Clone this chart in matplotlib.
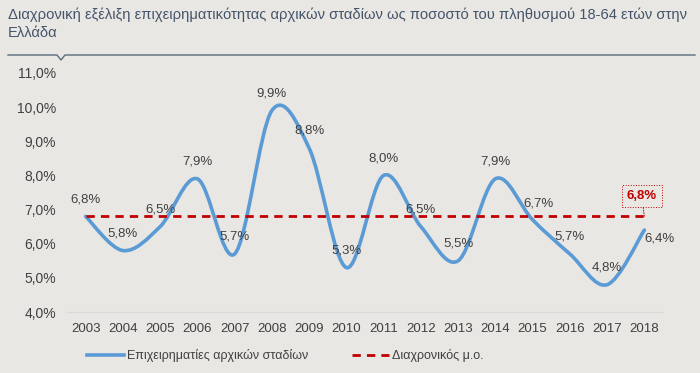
import numpy as np
import matplotlib.pyplot as plt
from matplotlib.path import Path
from matplotlib.patches import PathPatch
from matplotlib.lines import Line2D
from matplotlib.ticker import FuncFormatter

years = ["2003", "2004", "2005", "2006", "2007", "2008", "2009", "2010",
         "2011", "2012", "2013", "2014", "2015", "2016", "2017", "2018"]
tea = [6.8, 5.8, 6.5, 7.9, 5.7, 9.9, 8.8, 5.3, 8.0, 6.5, 5.5, 7.9, 6.7, 5.7, 4.8, 6.4]
mean_value = 6.8

title = ("Διαχρονική εξέλιξη επιχειρηματικότητας αρχικών σταδίων ως ποσοστό του πληθυσμού 18-64 ετών στην\n"
         "Ελλάδα")
series_name = "Επιχειρηματίες αρχικών σταδίων"
mean_name = "Διαχρονικός μ.ο."

bg = "#e9e7e3"
blue = "#5b9bd5"
red = "#c00000"
txt = "#404040"

plt.rcParams['font.family'] = ['Liberation Sans', 'DejaVu Sans']

fig = plt.figure(figsize=(7, 3.73), dpi=100, facecolor=bg)
ax = fig.add_axes([67 / 700, 1 - 312 / 373, (663 - 67) / 700, (312 - 73) / 373])
ax.set_facecolor(bg)


def smooth_path(x, y):
    # Excel-like smoothed line: Catmull-Rom segments as cubic Beziers
    pts = np.column_stack([x, y])
    verts = [pts[0]]
    codes = [Path.MOVETO]
    n = len(pts)
    for i in range(n - 1):
        p0 = pts[i - 1] if i > 0 else pts[i]
        p1 = pts[i]
        p2 = pts[i + 1]
        p3 = pts[i + 2] if i + 2 < n else pts[i + 1]
        c1 = p1 + (p2 - p0) / 6
        c2 = p2 - (p3 - p1) / 6
        verts += [c1, c2, p2]
        codes += [Path.CURVE4] * 3
    return Path(verts, codes)


x = np.arange(len(years))
ax.add_patch(PathPatch(smooth_path(x, np.array(tea)), facecolor='none',
                       edgecolor=blue, lw=2.6, capstyle='round', zorder=3))
ax.plot([x[0], x[-1]], [mean_value, mean_value], color=red, lw=2, ls=(0, (3, 2.2)), zorder=4)

for xi, v in zip(x, tea):
    lab = f"{v:.1f}%".replace(".", ",")
    if xi == len(years) - 1:
        ax.annotate(lab, (xi, v), xytext=(11, -6), textcoords='offset points',
                    ha='center', va='center', fontsize=9.5, color=txt, zorder=5)
    elif years[xi] == "2015":
        ax.annotate(lab, (xi, v), xytext=(4, 12), textcoords='offset points',
                    ha='center', va='center', fontsize=9.5, color=txt, zorder=5,
                    arrowprops=dict(arrowstyle='-', color='#8c8c8c', lw=0.6,
                                    shrinkA=5, shrinkB=0))
    else:
        ax.annotate(lab, (xi, v), xytext=(0, 12.5), textcoords='offset points',
                    ha='center', va='center', fontsize=9.5, color=txt, zorder=5)

ax.annotate(f"{mean_value:.1f}%".replace(".", ","), (x[-1], mean_value), xytext=(-2, 14.5),
            textcoords='offset points', ha='center', va='center', fontsize=9.5,
            color=red, fontweight='bold', zorder=6,
            bbox=dict(boxstyle='square,pad=0.38', fc='none', ec=red, lw=0.7, ls=':'),
            arrowprops=dict(arrowstyle='-', color=red, lw=0.7, ls=':', shrinkA=0, shrinkB=0))

ax.set_xlim(-0.5, len(years) - 0.5)
ax.set_ylim(4, 11)
ax.set_yticks(np.arange(4, 11.5, 1))
ax.yaxis.set_major_formatter(FuncFormatter(lambda v, p: f"{v:.1f}%".replace(".", ",")))
ax.set_xticks(x)
ax.set_xticklabels(years)
ax.tick_params(length=0, labelsize=9.5, colors=txt)
ax.tick_params(axis='y', pad=8, labelsize=10)
ax.tick_params(axis='x', pad=8)
for s in ["top", "right", "left"]:
    ax.spines[s].set_visible(False)
ax.spines["bottom"].set_color("#d9d9d9")
ax.spines["bottom"].set_linewidth(0.8)

fig.text(8 / 700, 1 - 8 / 373, title, ha='left', va='top', fontsize=10.6,
         color="#44546a", linespacing=1.35)
fig.add_artist(Line2D([8 / 700, 57 / 700, 61 / 700, 65 / 700, 695 / 700],
                      [1 - 55 / 373, 1 - 55 / 373, 1 - 60 / 373, 1 - 55 / 373, 1 - 55 / 373],
                      transform=fig.transFigure, color="#5a6b7b", lw=1))

handles = [Line2D([], [], color=blue, lw=2.6),
           Line2D([], [], color=red, lw=2, ls=(0, (3, 2.2)))]
fig.legend(handles, [series_name, mean_name], loc='center', bbox_to_anchor=(285 / 700, 1 - 356 / 373),
           ncol=2, frameon=False, fontsize=9,
           handlelength=3.0, columnspacing=3.5, handletextpad=0.2, labelcolor=txt)

fig.savefig("out.png", dpi=100, facecolor=bg)
